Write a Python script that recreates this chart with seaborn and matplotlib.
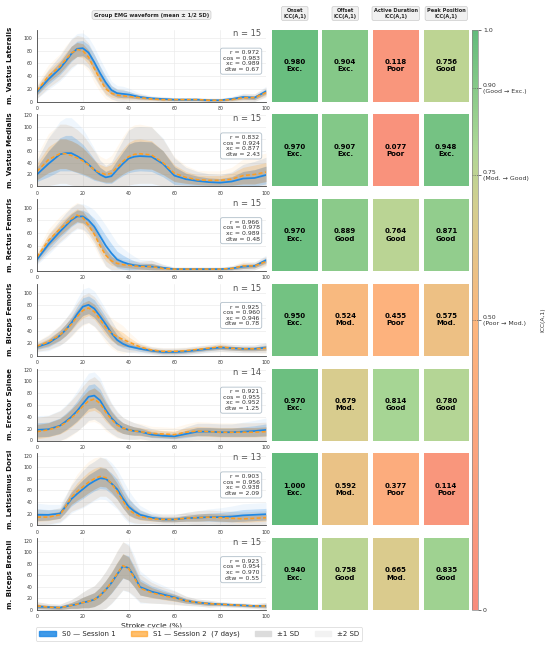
import numpy as np
import matplotlib
matplotlib.use("Agg")
import matplotlib.pyplot as plt
from matplotlib.colors import LinearSegmentedColormap
from matplotlib.patches import Patch
import seaborn as sns

# ---------------- data ----------------
X = [0, 5, 10, 12.5, 15, 17.5, 20, 22.5, 25, 27.5, 30, 32.5, 35, 37.5, 40, 42.5, 45,
     50, 55, 60, 65, 70, 75, 80, 85, 90, 95, 100]

MUSCLES = ["m. Vastus Lateralis", "m. Vastus Medialis", "m. Rectus Femoris",
           "m. Biceps Femoris", "m. Erector Spinae", "m. Latissimus Dorsi",
           "m. Biceps Brachii"]
N_SUBJ = [15, 15, 15, 15, 14, 13, 15]
STAT_R = [0.972, 0.832, 0.966, 0.925, 0.921, 0.903, 0.923]
STAT_COS = [0.983, 0.924, 0.978, 0.960, 0.955, 0.956, 0.954]
STAT_XC = [0.989, 0.877, 0.989, 0.946, 0.952, 0.938, 0.970]
STAT_DTW = [0.67, 2.43, 0.48, 0.78, 1.25, 2.09, 0.55]

ICC_HEADERS = ["Onset\nICC(A,1)", "Offset\nICC(A,1)", "Active Duration\nICC(A,1)",
               "Peak Position\nICC(A,1)"]
ICC_ONSET = [0.980, 0.970, 0.970, 0.950, 0.970, 1.000, 0.940]
ICC_OFFSET = [0.904, 0.907, 0.889, 0.524, 0.679, 0.592, 0.758]
ICC_ACTIVE = [0.118, 0.077, 0.764, 0.455, 0.814, 0.377, 0.665]
ICC_PEAK = [0.756, 0.948, 0.871, 0.575, 0.780, 0.114, 0.835]

CBAR_TICKS = [0, 0.5, 0.75, 0.9, 1.0]
CBAR_LABELS = ["0", "0.50\n(Poor → Mod.)", "0.75\n(Mod. → Good)", "0.90\n(Good → Exc.)", "1.0"]

VL_S0 = [15, 35, 52, 63, 75, 83, 84, 77, 62, 45, 30, 18, 13, 12, 11, 9, 7, 5, 4, 3, 3, 3, 2, 2, 4, 7, 6, 16]
VL_S1 = [17, 40, 55, 66, 76, 82, 80, 70, 52, 35, 20, 13, 10, 9, 8, 7, 6, 4, 3, 3, 3, 3, 2, 2, 3, 6, 6, 14]
VL_SD0 = [5, 8, 10, 11, 12, 12, 12, 12, 12, 11, 10, 7, 6, 6, 5, 4, 3, 2, 2, 1.5, 1.5, 1.5, 1.5, 1.5, 2, 3, 3, 4]
VL_SD1 = [6, 9, 10, 11, 11, 11, 11, 11, 11, 10, 8, 6, 5, 5, 4, 3, 3, 2, 2, 1.5, 1.5, 1.5, 1.5, 1.5, 2, 3, 3, 4]

VM_S0 = [20, 38, 54, 56, 56, 51, 45, 37, 28, 20, 15, 17, 28, 38, 47, 50, 51, 50, 38, 18, 12, 9, 7, 6, 8, 13, 14, 19]
VM_S1 = [25, 45, 55, 55, 52, 48, 43, 36, 28, 23, 20, 22, 32, 42, 50, 54, 55, 53, 40, 22, 15, 11, 10, 10, 12, 18, 20, 24]
VM_SD0 = [12, 22, 28, 30, 30, 28, 26, 22, 18, 12, 10, 12, 16, 20, 24, 25, 25, 25, 22, 15, 10, 8, 7, 7, 8, 12, 14, 15]
VM_SD1 = [14, 22, 25, 25, 25, 24, 22, 19, 16, 14, 13, 15, 18, 21, 24, 25, 25, 24, 20, 14, 10, 8, 8, 8, 10, 14, 16, 16]

RF_S0 = [18, 42, 62, 71, 80, 86, 86, 80, 70, 55, 40, 28, 18, 14, 11, 9, 8, 7, 5, 3, 3, 3, 3, 3, 4, 7, 8, 17]
RF_S1 = [22, 48, 66, 74, 82, 88, 84, 72, 58, 40, 25, 16, 12, 10, 9, 8, 7, 7, 4, 3, 3, 3, 3, 3, 4, 8, 8, 15]
RF_SD0 = [4, 8, 9, 10, 10, 10, 10, 11, 13, 15, 16, 15, 13, 11, 9, 7, 5, 5, 3, 1.5, 1.5, 1.5, 1.5, 1.5, 2, 3, 3, 4]
RF_SD1 = [5, 9, 10, 10, 10, 10, 10, 10, 10, 10, 9, 7, 5, 4, 4, 4, 4, 5, 3, 1.5, 1.5, 1.5, 1.5, 1.5, 2, 4, 3, 4]

BF_S0 = [14, 20, 32, 41, 52, 66, 78, 81, 75, 63, 50, 36, 25, 19, 15, 13, 11, 8, 6, 6, 7, 9, 11, 13, 12, 11, 11, 13]
BF_S1 = [15, 22, 33, 41, 50, 62, 72, 76, 70, 58, 45, 36, 30, 26, 22, 18, 14, 9, 7, 7, 8, 10, 12, 14, 12, 11, 11, 12]
BF_SD0 = [4, 6, 8, 9, 10, 12, 14, 14, 14, 13, 12, 10, 8, 6, 5, 4, 4, 3, 3, 3, 3, 3, 3, 3, 3, 3, 3, 4]
BF_SD1 = [4, 6, 8, 9, 10, 11, 12, 12, 12, 12, 12, 12, 12, 11, 8, 6, 4, 3, 3, 3, 3, 3, 3, 4, 3, 3, 3, 4]

ES_S0 = [18, 19, 25, 32, 40, 50, 62, 74, 76, 68, 52, 38, 28, 21, 18, 16, 15, 10, 8, 7, 11, 15, 15, 14, 14, 15, 16, 18]
ES_S1 = [15, 18, 24, 30, 38, 47, 58, 67, 70, 63, 48, 36, 26, 21, 18, 16, 15, 12, 11, 10, 14, 16, 15, 14, 14, 14, 14, 15]
ES_SD0 = [12, 12, 13, 14, 15, 17, 19, 20, 20, 19, 16, 13, 11, 9, 8, 7, 6, 5, 4, 4, 6, 7, 7, 7, 7, 8, 9, 10]
ES_SD1 = [12, 12, 13, 14, 15, 16, 17, 18, 19, 18, 16, 13, 11, 9, 8, 7, 7, 6, 6, 6, 7, 8, 8, 8, 8, 8, 8, 8]

LD_S0 = [18, 18, 20, 32, 45, 54, 62, 70, 76, 81, 80, 72, 62, 46, 32, 24, 18, 13, 10, 10, 12, 13, 14, 14, 15, 17, 18, 19]
LD_S1 = [14, 14, 18, 32, 48, 58, 66, 74, 80, 84, 82, 72, 58, 42, 27, 20, 15, 11, 10, 10, 12, 13, 14, 13, 12, 11, 12, 13]
LD_SD0 = [10, 9, 8, 10, 12, 14, 16, 17, 17, 18, 18, 18, 17, 16, 14, 11, 8, 5, 4, 4, 5, 6, 7, 8, 9, 10, 10, 10]
LD_SD1 = [7, 6, 6, 9, 12, 15, 17, 18, 18, 17, 16, 15, 14, 12, 10, 8, 6, 4, 4, 4, 5, 6, 6, 6, 6, 6, 6, 6]

BB_S0 = [6, 5, 4, 6, 8, 10, 13, 15, 18, 25, 35, 47, 62, 76, 73, 58, 40, 32, 27, 22, 16, 13, 11, 10, 9, 8, 7, 7]
BB_S1 = [7, 5, 4, 6, 8, 10, 13, 15, 18, 25, 35, 48, 63, 77, 72, 56, 38, 30, 25, 21, 16, 13, 11, 10, 9, 8, 7, 7]
BB_SD0 = [4, 3, 3, 4, 5, 7, 9, 11, 12, 14, 16, 18, 20, 21, 21, 18, 14, 10, 8, 6, 4, 3, 3, 2, 2, 2, 2, 3]
BB_SD1 = [4, 3, 3, 4, 5, 7, 9, 11, 12, 14, 16, 18, 20, 21, 20, 16, 12, 9, 7, 6, 4, 3, 3, 2, 2, 2, 2, 3]

SERIES = [(VL_S0, VL_SD0, VL_S1, VL_SD1), (VM_S0, VM_SD0, VM_S1, VM_SD1),
          (RF_S0, RF_SD0, RF_S1, RF_SD1), (BF_S0, BF_SD0, BF_S1, BF_SD1),
          (ES_S0, ES_SD0, ES_S1, ES_SD1), (LD_S0, LD_SD0, LD_S1, LD_SD1),
          (BB_S0, BB_SD0, BB_S1, BB_SD1)]
ICC_TABLE = np.array([ICC_ONSET, ICC_OFFSET, ICC_ACTIVE, ICC_PEAK]).T


def icc_category(v):
    if v >= 0.9:
        return "Exc."
    if v >= 0.75:
        return "Good"
    if v >= 0.5:
        return "Mod."
    return "Poor"


# ---------------- style ----------------
sns.set_theme(style="whitegrid")
plt.rcParams.update({
    "font.family": ["DejaVu Sans"],
    "grid.color": "#ebebeb",
    "grid.linewidth": 0.5,
    "axes.edgecolor": "#444444",
    "axes.linewidth": 0.6,
})

BLUE = "#1e88e5"
ORANGE = "#ff9d1f"
GRAY = "#9a9490"
CMAP = LinearSegmentedColormap.from_list(
    "icc", [(0.0, "#f88c7c"), (0.5, "#fdb67d"), (0.7, "#d3cf90"),
            (0.8, "#acd796"), (1.0, "#62bb7c")])

W, H = 550, 648
fig = plt.figure(figsize=(W / 100, H / 100), dpi=100)

ROW_TOP0, ROW_H, PITCH = 29.5, 72.0, 84.75
WAVE_L, WAVE_W = 37.0, 229.0
CELL_X = [272.0, 322.5, 373.0, 423.5]
CELL_W = 45.5
CB_X, CB_W = 472.0, 5.5

cbar_ax = fig.add_axes([CB_X / W, 1 - 610 / H, CB_W / W, 580.5 / H])
x_arr = np.array(X, dtype=float)

for i, muscle in enumerate(MUSCLES):
    top = ROW_TOP0 + i * PITCH
    y0 = 1 - (top + ROW_H) / H
    ax = fig.add_axes([WAVE_L / W, y0, WAVE_W / W, ROW_H / H])
    m0, s0, m1, s1 = [np.array(a, dtype=float) for a in SERIES[i]]

    for k, alpha_c, alpha_g in ((2, 0.07, 0.10), (1, 0.22, 0.33)):
        lo0, hi0 = np.clip(m0 - k * s0, 0, None), m0 + k * s0
        lo1, hi1 = np.clip(m1 - k * s1, 0, None), m1 + k * s1
        ax.fill_between(x_arr, lo0, hi0, color=BLUE, alpha=alpha_c, lw=0)
        ax.fill_between(x_arr, lo1, hi1, color=ORANGE, alpha=alpha_c, lw=0)
        lo_o, hi_o = np.maximum(lo0, lo1), np.minimum(hi0, hi1)
        ax.fill_between(x_arr, lo_o, hi_o, where=hi_o > lo_o, color=GRAY,
                        alpha=alpha_g, lw=0, interpolate=True)

    sns.lineplot(x=x_arr, y=m0, ax=ax, color=BLUE, lw=1.25)
    sns.lineplot(x=x_arr, y=m1, ax=ax, color=ORANGE, lw=1.15,
                 linestyle=(0, (2.5, 1.5)))

    ax.set_xlim(0, 100)
    ax.set_ylim(bottom=0)
    ax.set_xticks([0, 20, 40, 60, 80, 100])
    ax.tick_params(labelsize=3.3, length=2, width=0.5, pad=1.2, colors="#333333")
    sns.despine(ax=ax)
    ax.set_ylabel(muscle, fontsize=5.1, fontweight="bold", color="#111111")
    ax.yaxis.set_label_coords(-0.105, 0.5)
    if i == len(MUSCLES) - 1:
        ax.set_xlabel("Stroke cycle (%)", fontsize=5.4, labelpad=2, color="#222222")
    else:
        ax.set_xlabel("")

    ax.text(0.978, 0.94, f"n = {N_SUBJ[i]}", transform=ax.transAxes, ha="right",
            va="center", fontsize=6, color="#555555")
    stats = (f"r = {STAT_R[i]:.3f}\ncos = {STAT_COS[i]:.3f}\n"
             f"xc = {STAT_XC[i]:.3f}\ndtw = {STAT_DTW[i]:.2f}")
    ax.text(0.972, 0.56, stats, transform=ax.transAxes, ha="right", va="center",
            multialignment="right", fontsize=4.4, color="#333333", linespacing=1.15,
            bbox=dict(boxstyle="round,pad=0.35", fc="white", ec="#a9b8c4",
                      lw=0.6, alpha=0.9))

    for j in range(4):
        v = ICC_TABLE[i, j]
        cax = fig.add_axes([CELL_X[j] / W, y0, CELL_W / W, ROW_H / H])
        first = (i == 0 and j == 0)
        sns.heatmap(np.array([[v]]), ax=cax, cmap=CMAP, vmin=0, vmax=1,
                    annot=np.array([[f"{v:.3f}\n{icc_category(v)}"]]), fmt="",
                    annot_kws=dict(fontsize=5, fontweight="bold", color="black",
                                   linespacing=1.25),
                    cbar=first, cbar_ax=cbar_ax if first else None,
                    cbar_kws=dict(ticks=CBAR_TICKS) if first else None,
                    xticklabels=False, yticklabels=False)
        cax.tick_params(length=0)
        if first:
            cb = cax.collections[0].colorbar

# ---------------- colorbar ----------------
cb.set_ticks(CBAR_TICKS)
cb.set_ticklabels(CBAR_LABELS)
cb.ax.tick_params(labelsize=4.5, length=2.5, width=0.5, pad=1.5, colors="#333333")
cb.outline.set_edgecolor("#888888")
cb.outline.set_linewidth(0.5)
for t in (0.5, 0.75, 0.9):
    cb.ax.axhline(t, color="#555555", ls=":", lw=0.6)
cb.set_label("ICC(A,1)", fontsize=4.3, color="#333333")
cb.ax.yaxis.set_label_coords(12.4, 0.5)

# ---------------- headers ----------------
hdr_box = dict(boxstyle="round,pad=0.35", fc="#f0f0f0", ec="#cccccc", lw=0.5)
fig.text((WAVE_L + WAVE_W / 2) / W, 1 - 15 / H, "Group EMG waveform (mean ± 1/2 SD)",
         ha="center", va="center", fontsize=3.8, fontweight="bold", bbox=hdr_box)
for j, hdr in enumerate(ICC_HEADERS):
    fig.text((CELL_X[j] + CELL_W / 2) / W, 1 - 13.5 / H, hdr, ha="center", va="center",
             fontsize=3.6, fontweight="bold", linespacing=1.15, bbox=hdr_box)

# ---------------- legend ----------------
handles = [Patch(facecolor=BLUE, edgecolor=BLUE, alpha=0.85),
           Patch(facecolor=ORANGE, edgecolor=ORANGE, alpha=0.65),
           Patch(facecolor="#dcdcdc", edgecolor="#dcdcdc"),
           Patch(facecolor="#f2f2f2", edgecolor="#f2f2f2")]
labels = ["S0 — Session 1", "S1 — Session 2  (7 days)", "±1 SD", "±2 SD"]
leg = fig.legend(handles, labels, loc="center", bbox_to_anchor=(0.362, 1 - 634 / H),
                 ncol=4, fontsize=5, frameon=True, handlelength=2.4,
                 columnspacing=2.2, handletextpad=0.8, borderpad=0.5)
leg.get_frame().set_edgecolor("#cccccc")
leg.get_frame().set_linewidth(0.5)

fig.savefig("out.png", dpi=100)
